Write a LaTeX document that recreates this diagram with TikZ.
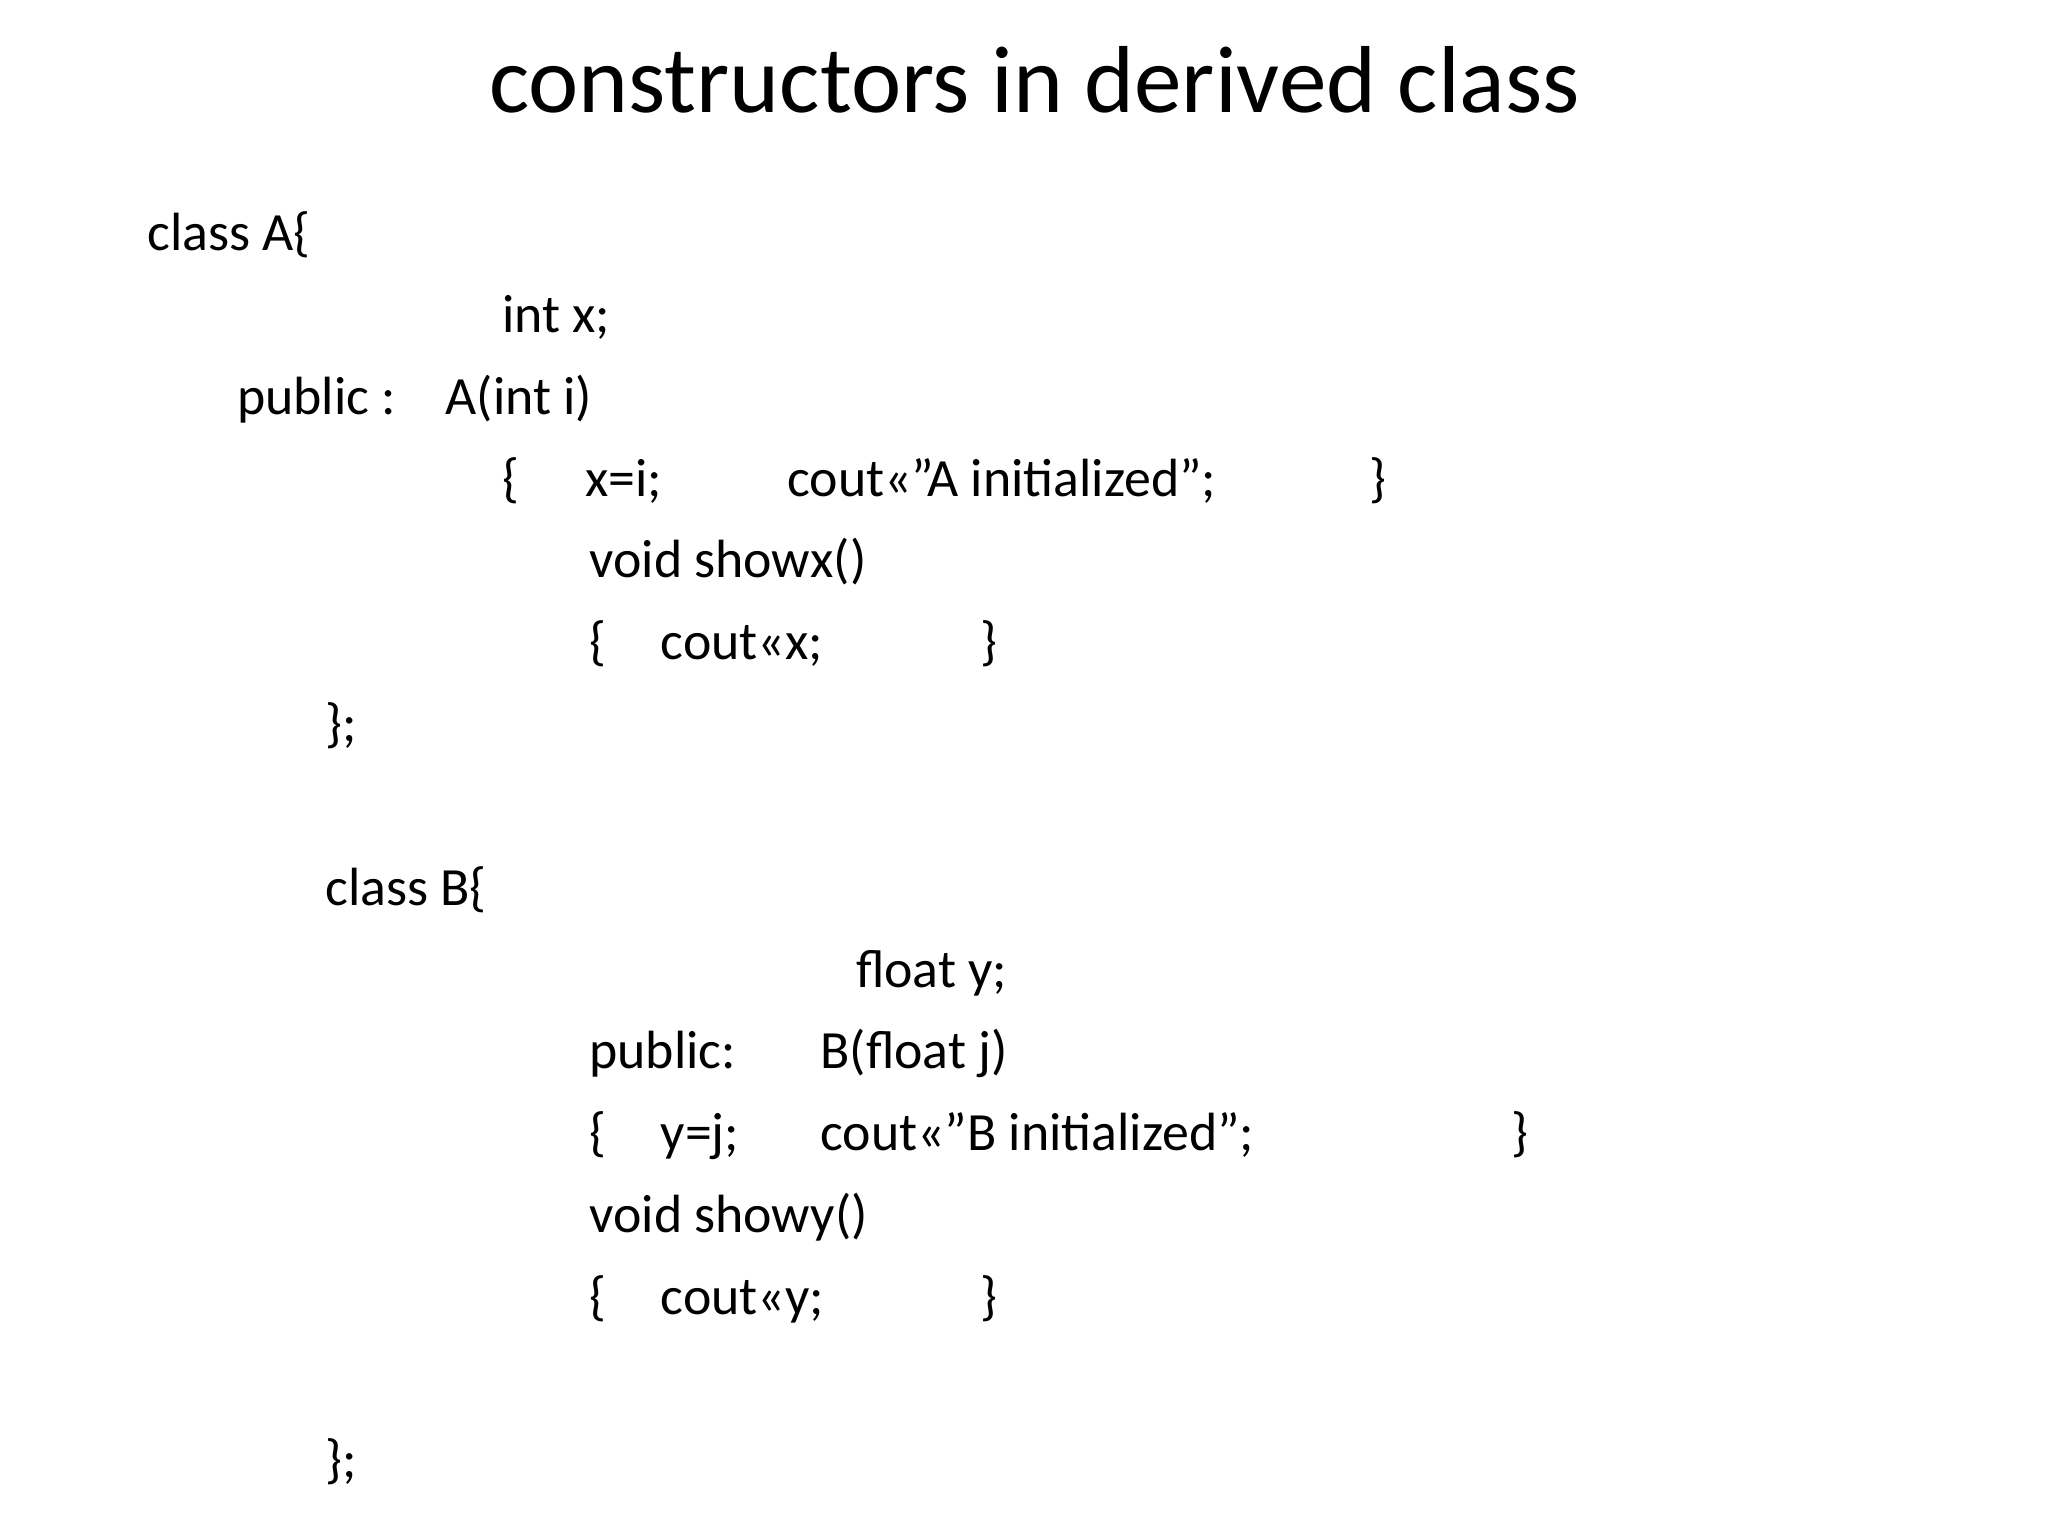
\documentclass[tikz,border=0pt]{standalone}
\usepackage{fontspec}
\setmainfont{Carlito}
\begin{document}
\begin{tikzpicture}[x=0.01cm,y=-0.01cm]
        % Define styles for text pieces
        \tikzstyle{code} = [inner sep=0pt, anchor=base west, font=\fontsize{11.6}{14}\selectfont]
        \tikzstyle{title} = [inner sep=0pt, anchor=base, font=\fontsize{20.5}{24}\selectfont]
        \useasboundingbox (0,0) rectangle (1552,1164);

        \node (title) [title] at (784,85) {constructors in derived class};

        % class A
        \node (classA) [code] at (111,190) {class A\{};
        \node (intx) [code] at (380,252) {int x;};
        \node (publicA) [code] at (179,314) {public :};
        \node (ctorA) [code] at (337,314) {A(int i)};
        \node (openA) [code] at (380,376) {\{};
        \node (xi) [code] at (443,376) {x=i;};
        \node (coutA) [code] at (596,376) {cout<<”A initialized”;};
        \node (closeA) [code] at (1037,376) {\}};
        \node (showx) [code] at (446,438) {void showx()};
        \node (openX) [code] at (446,500) {\{};
        \node (coutx) [code] at (500,500) {cout<<x;};
        \node (closeX) [code] at (742,500) {\}};
        \node (endA) [code] at (246,562) {\};};

        % class B
        \node (classB) [code] at (246,686) {class B\{};
        \node (floaty) [code] at (648,748) {float y;};
        \node (publicB) [code] at (446,810) {public:};
        \node (ctorB) [code] at (621,810) {B(float j)};
        \node (openB) [code] at (446,872) {\{};
        \node (yj) [code] at (500,872) {y=j;};
        \node (coutB) [code] at (621,872) {cout<<”B initialized”;};
        \node (closeB) [code] at (1145,872) {\}};
        \node (showy) [code] at (446,934) {void showy()};
        \node (openY) [code] at (446,996) {\{};
        \node (couty) [code] at (500,996) {cout<<y;};
        \node (closeY) [code] at (742,996) {\}};
        \node (endB) [code] at (246,1120) {\};};
\end{tikzpicture}
\end{document}
